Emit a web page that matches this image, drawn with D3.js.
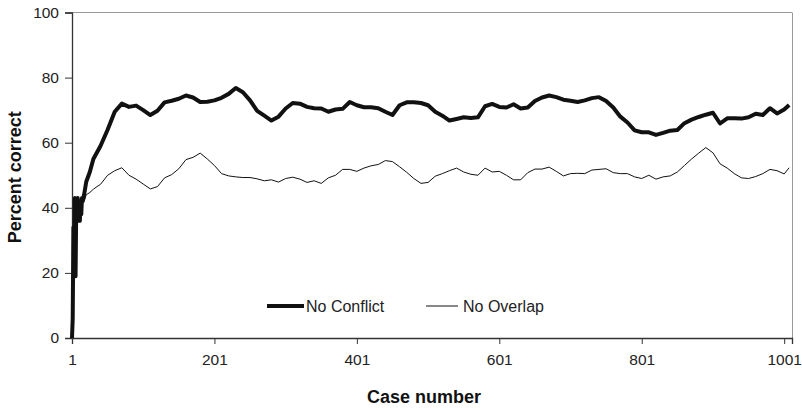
<!DOCTYPE html>
<html>
<head>
<meta charset="utf-8">
<script src="https://cdn.jsdelivr.net/npm/d3@7/dist/d3.min.js"></script>
<style>
  body { margin: 0; background: #fff; }
  text { font-family: Arial, "Liberation Sans", sans-serif; }
</style>
</head>
<body>
<div id="container"></div>
<script>
// case numbers (dense at the very start, then every 10 cases)
var caseNumbers = [1,2,3,4,5,6,7,8,9,10,11,12,13,14,15,16,18,21,26,31,36,41,
  51,61,71,81,91,101,111,121,131,141,151,161,171,181,191,201,211,221,231,241,
  251,261,271,281,291,301,311,321,331,341,351,361,371,381,391,401,411,421,431,441,
  451,461,471,481,491,501,511,521,531,541,551,561,571,581,591,601,611,621,631,641,
  651,661,671,681,691,701,711,721,731,741,751,761,771,781,791,801,811,821,831,841,
  851,861,871,881,891,901,911,921,931,941,951,961,971,981,991,1001,1008];

var noConflict = [0,6,34,21,43,19,41,36,43,37,42,36,41,38,43,42,44,48,51,55,57,59,
  64,69.5,72,71,71.4,70,68.5,69.8,72.4,72.9,73.5,74.5,73.9,72.5,72.6,73,73.8,75,76.8,75.5,
  73,69.8,68.3,66.8,68,70.5,72.2,72,71,70.6,70.5,69.5,70.2,70.4,72.5,71.5,70.9,70.9,70.6,69.5,
  68.5,71.5,72.4,72.4,72.2,71.5,69.5,68.3,66.8,67.3,67.8,67.6,67.8,71.2,71.9,71,70.8,71.8,70.5,70.8,
  72.8,73.9,74.5,74,73.2,72.9,72.5,73,73.7,74,72.8,70.8,68,66.2,63.8,63.2,63.2,62.4,63,63.7,
  63.9,66,67.1,67.9,68.6,69.2,65.9,67.5,67.5,67.4,67.8,68.9,68.5,70.6,69,70.2,71.6];

var noOverlap = [0,6,34,21,43,19,41,36,43,37,42,36,41,38,43,42,42,44,44.7,45.7,46.5,47.2,
  50,51.4,52.3,50,48.8,47.3,45.8,46.5,49.2,50.2,52,54.8,55.5,56.8,55,53,50.5,49.8,49.5,49.3,
  49.3,48.9,48.3,48.6,47.9,49,49.4,48.8,47.8,48.3,47.5,49.2,50,51.8,51.8,51.2,52.2,52.9,53.3,54.5,
  54.2,52.6,50.9,49,47.5,47.8,49.7,50.5,51.4,52.2,51,50.3,50,52.2,51,51.2,50,48.6,48.6,50.8,
  51.9,51.9,52.5,51.2,49.8,50.5,50.6,50.5,51.6,51.8,52,50.8,50.5,50.5,49.5,49,50,48.8,49.5,49.8,
  51,53,55,56.8,58.5,56.9,53.5,52.2,50.5,49.2,49,49.6,50.5,51.8,51.4,50.4,52.3];

var seriesNames = ["No Conflict", "No Overlap"];
var yTicks = [0, 20, 40, 60, 80, 100];
var xTicks = [1, 201, 401, 601, 801, 1001];

var margin = {top: 12.5, right: 10, bottom: 72, left: 72},
    width = 802 - margin.left - margin.right,
    height = 410 - margin.top - margin.bottom;

var svg = d3.select("#container")
  .append("svg")
    .attr("width", 802)
    .attr("height", 410)
  .append("g")
    .attr("transform", "translate(" + margin.left + "," + margin.top + ")");

var x = d3.scaleLinear().domain([1, 1012]).range([0, width]);
var y = d3.scaleLinear().domain([0, 100]).range([height, 0]);

// light frame on top and right
svg.append("line")
    .attr("x1", 0).attr("x2", width).attr("y1", 0).attr("y2", 0)
    .attr("stroke", "#999").attr("stroke-width", 1);
svg.append("line")
    .attr("x1", width + 0.5).attr("x2", width + 0.5).attr("y1", 0).attr("y2", height)
    .attr("stroke", "#999").attr("stroke-width", 1);

// axes
var yAxis = svg.append("g")
    .call(d3.axisLeft(y).tickValues(yTicks).tickSize(7).tickPadding(6));
var xAxis = svg.append("g")
    .attr("transform", "translate(0," + height + ")")
    .call(d3.axisBottom(x).tickValues(xTicks).tickFormat(d3.format("d")).tickSize(6).tickPadding(10));

[yAxis, xAxis].forEach(function(a) {
    a.select(".domain").attr("stroke", "#333").attr("stroke-width", 1.3);
    a.selectAll(".tick line").attr("stroke", "#333");
    a.selectAll(".tick text")
        .attr("font-size", "15.5px")
        .attr("fill", "#222")
        .attr("font-family", "Arial, 'Liberation Sans', sans-serif");
});

// lines
function makeLine(values) {
    return d3.line()
        .x(function(d, i) { return x(caseNumbers[i]); })
        .y(function(d) { return y(d); })(values);
}

svg.append("path")
    .attr("d", makeLine(noOverlap))
    .attr("fill", "none")
    .attr("stroke", "#111")
    .attr("stroke-width", 1)
    .attr("stroke-linejoin", "round");

svg.append("path")
    .attr("d", makeLine(noConflict))
    .attr("fill", "none")
    .attr("stroke", "#111")
    .attr("stroke-width", 4)
    .attr("stroke-linejoin", "round");

// legend
var legendX = [195, 354];
var legendW = [4, 1];
var legend = svg.selectAll(".legend")
  .data(seriesNames)
  .enter()
  .append("g")
    .attr("transform", function(d, i) { return "translate(" + legendX[i] + "," + 293.5 + ")"; });
legend.append("line")
    .attr("x1", 0).attr("x2", function(d, i) { return i == 0 ? 37 : 32; })
    .attr("stroke", "#111")
    .attr("stroke-width", function(d, i) { return legendW[i]; });
legend.append("text")
    .attr("x", function(d, i) { return i == 0 ? 39 : 37; })
    .attr("y", 6)
    .attr("font-size", "16px")
    .attr("fill", "#222")
    .text(function(d) { return d; });

// axis titles
svg.append("text")
    .attr("x", width / 2 - 8)
    .attr("y", height + 65)
    .attr("text-anchor", "middle")
    .attr("font-size", "18px")
    .attr("font-weight", "bold")
    .attr("fill", "#111")
    .text("Case number");

svg.append("text")
    .attr("transform", "translate(" + (-51) + "," + (height / 2 + 2) + ") rotate(-90)")
    .attr("text-anchor", "middle")
    .attr("font-size", "18px")
    .attr("font-weight", "bold")
    .attr("fill", "#111")
    .text("Percent correct");
</script>
</body>
</html>
